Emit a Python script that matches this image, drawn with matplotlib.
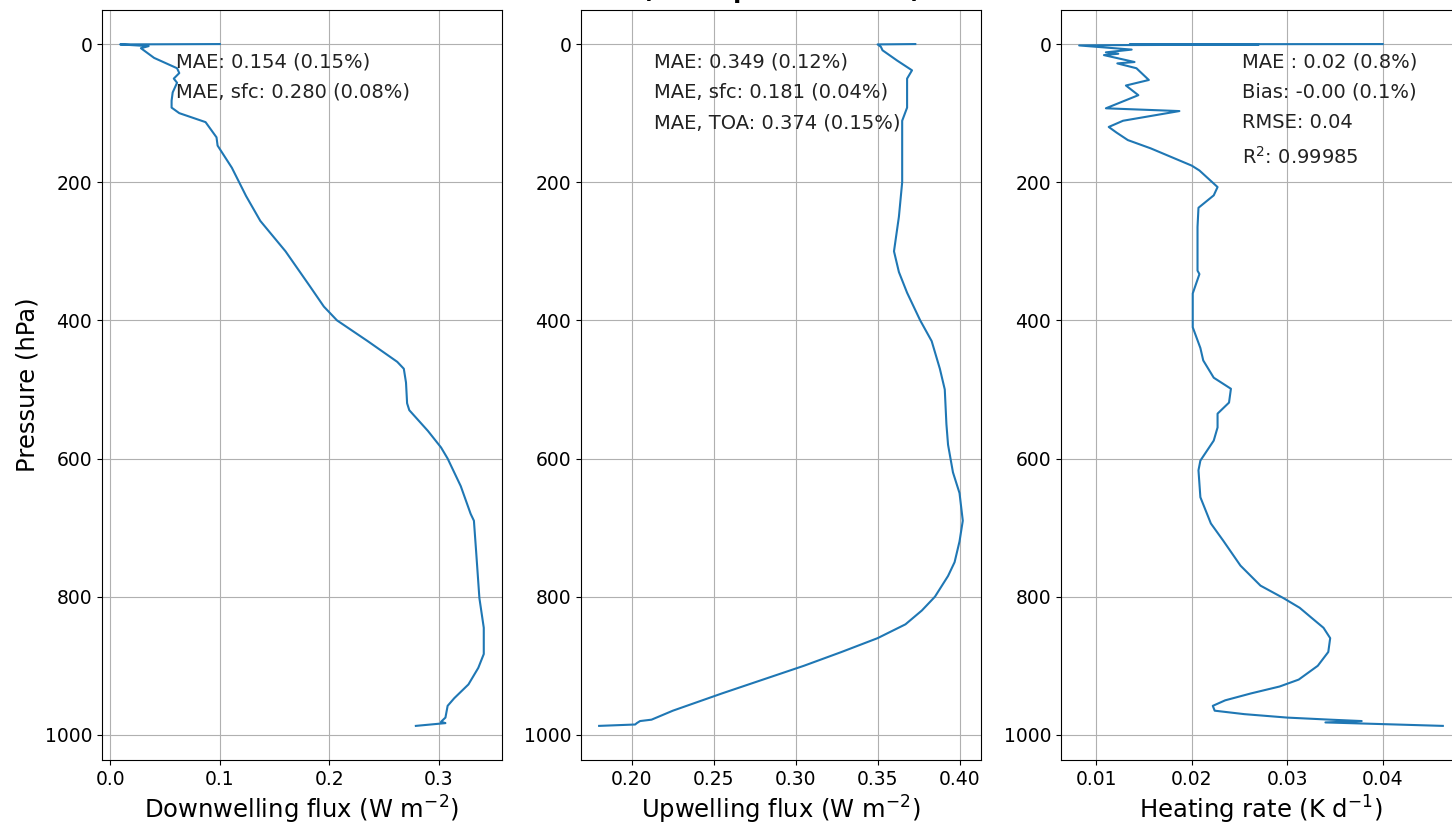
import numpy as np
import matplotlib
matplotlib.use("Agg")
import matplotlib.pyplot as plt

# pressure levels (hPa) and profile values for each panel
p_down = [0.0, 0.5, 3, 6, 20, 35, 42, 50, 56, 70, 82, 92, 100, 113, 135, 147, 179,
          220, 256, 300, 350, 380, 400, 430, 460, 470, 490, 520, 530, 560, 584, 600,
          640, 680, 690, 734, 802, 845, 883, 903, 927, 947, 958, 975, 981, 983, 987]
flux_down = [0.100, 0.009, 0.035, 0.028, 0.040, 0.061, 0.063, 0.058, 0.061, 0.057,
             0.056, 0.056, 0.063, 0.087, 0.097, 0.098, 0.111, 0.124, 0.137, 0.160,
             0.182, 0.195, 0.207, 0.235, 0.262, 0.268, 0.270, 0.271, 0.273, 0.290,
             0.302, 0.308, 0.320, 0.329, 0.332, 0.334, 0.337, 0.341, 0.341, 0.336,
             0.327, 0.314, 0.308, 0.306, 0.302, 0.306, 0.279]

p_up = [0.0, 0.5, 4, 9, 24, 38, 50, 71, 92, 111, 135, 169, 200, 250, 300, 330, 360,
        400, 430, 470, 500, 550, 580, 620, 650, 690, 720, 750, 770, 800, 820, 840,
        860, 880, 900, 920, 940, 955, 965, 972, 978, 980, 983, 985, 987]
flux_up = [0.373, 0.350, 0.352, 0.353, 0.362, 0.371, 0.368, 0.368, 0.368, 0.365,
           0.365, 0.365, 0.365, 0.363, 0.360, 0.363, 0.368, 0.376, 0.383, 0.388,
           0.391, 0.392, 0.393, 0.396, 0.400, 0.402, 0.400, 0.397, 0.393, 0.385,
           0.377, 0.367, 0.350, 0.328, 0.305, 0.280, 0.255, 0.237, 0.225, 0.218,
           0.212, 0.205, 0.203, 0.202, 0.180]

p_hr = [0.0, 0.3, 0.8, 1.5, 2, 8, 12, 14, 16, 26, 28, 35, 52, 60, 74, 93, 97, 111,
        120, 128, 139, 151, 176, 183, 207, 219, 237, 265, 328, 333, 361, 410, 440,
        458, 483, 499, 519, 535, 555, 574, 603, 617, 656, 694, 719, 755, 784, 802,
        816, 830, 845, 860, 880, 900, 920, 930, 940, 950, 958, 965, 970, 975, 978,
        980, 982, 987]
hr = [0.040, 0.0135, 0.027, 0.0125, 0.0082, 0.0137, 0.011, 0.0123, 0.0108, 0.014,
      0.0122, 0.0142, 0.0155, 0.0131, 0.0144, 0.011, 0.0187, 0.0128, 0.0113, 0.0121,
      0.0133, 0.0157, 0.020, 0.0208, 0.0227, 0.0223, 0.0207, 0.0206, 0.0206, 0.0208,
      0.0201, 0.0201, 0.0209, 0.0212, 0.0223, 0.0241, 0.0239, 0.0227, 0.0227, 0.0223,
      0.0209, 0.0207, 0.0209, 0.022, 0.0233, 0.0251, 0.0272, 0.0296, 0.0313, 0.0325,
      0.0338, 0.0345, 0.0343, 0.0332, 0.0312, 0.0292, 0.0262, 0.0235, 0.0222, 0.0224,
      0.0255, 0.0300, 0.0345, 0.0378, 0.0340, 0.0463]

xlabels = ["Downwelling flux (W m$^{-2}$)", "Upwelling flux (W m$^{-2}$)",
           "Heating rate (K d$^{-1}$)"]
stats = [
    "MAE: 0.154 (0.15%)\nMAE, sfc: 0.280 (0.08%)",
    "MAE: 0.349 (0.12%)\nMAE, sfc: 0.181 (0.04%)\nMAE, TOA: 0.374 (0.15%)",
    "MAE : 0.02 (0.8%)\nBias: -0.00 (0.1%)\nRMSE: 0.04\nR$^2$: 0.99985",
]
stat_x = [0.185, 0.183, 0.452]

fig = plt.figure(figsize=(14.52, 8.24), dpi=100)
lefts = [0.0702, 0.4001, 0.7307]
axes = [fig.add_axes([l, 0.0777, 0.2755, 0.9102]) for l in lefts]

profiles = [(flux_down, p_down), (flux_up, p_up), (hr, p_hr)]
for i, ax in enumerate(axes):
    x, p = profiles[i]
    ax.plot(x, p, color="tab:blue", lw=1.5)
    ax.invert_yaxis()
    ax.grid(True)
    ax.set_xlabel(xlabels[i], fontsize=17.5)
    ax.tick_params(labelsize=13.5)
    ax.text(stat_x[i], 0.943, stats[i], transform=ax.transAxes, va="top",
            ha="left", fontsize=14, color="#222222", linespacing=1.75)

axes[0].set_ylabel("Pressure (hPa)", fontsize=17.5)
axes[1].set_title("(Mean profile errors)", fontsize=17, fontweight="bold", pad=8.5)

fig.savefig("out.png", dpi=100)
